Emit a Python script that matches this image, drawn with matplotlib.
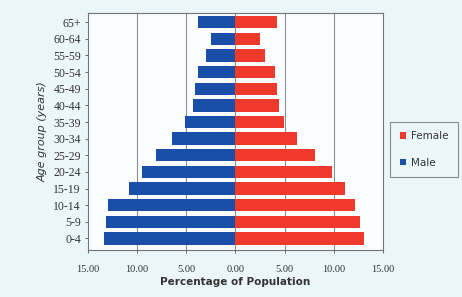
import matplotlib
matplotlib.use("Agg")
import matplotlib.pyplot as plt
import numpy as np

age_groups = ["0-4", "5-9", "10-14", "15-19", "20-24", "25-29", "30-34",
              "35-39", "40-44", "45-49", "50-54", "55-59", "60-64", "65+"]
male = [13.4, 13.1, 12.9, 10.85, 9.5, 8.1, 6.4, 5.1, 4.3, 4.15, 3.75, 2.95, 2.45, 3.75]
female = [13.1, 12.7, 12.2, 11.1, 9.85, 8.1, 6.3, 4.9, 4.4, 4.2, 4.0, 3.0, 2.5, 4.2]
xticks = [-15, -10, -5, 0, 5, 10, 15]

bg = "#ebf6fb"
fig = plt.figure(figsize=(4.62, 2.97), dpi=100, facecolor=bg)
ax = fig.add_axes([0.190, 0.158, 0.639, 0.798])
ax.set_facecolor("#fbfdfe")

y = np.arange(len(age_groups))
ax.barh(y, [-m for m in male], height=0.74, color="#1a4fa8", label="Male", zorder=2)
ax.barh(y, female, height=0.74, color="#ef3a2b", label="Female", zorder=2)

for gx in [-10, -5, 0, 5, 10]:
    ax.axvline(gx, color="#8a8f94", lw=0.8, zorder=1)

ax.set_xlim(-15, 15)
ax.set_ylim(-0.7, 13.55)
ax.set_xticks(xticks)
ax.set_xticklabels([f"{abs(v):.2f}" for v in xticks], fontfamily="Liberation Serif", fontsize=7.5)
ax.set_yticks(y)
ax.set_yticklabels(age_groups, fontfamily="Liberation Serif", fontsize=8.5)
ax.tick_params(axis="both", length=2, width=0.6, colors="#555555", labelcolor="#333333", pad=3)
ax.tick_params(axis="x", pad=9)
for s in ax.spines.values():
    s.set_color("#6d7378")
    s.set_linewidth(0.8)

ax.set_xlabel("Percentage of Population", fontsize=7.5, fontweight="bold", color="#333333", labelpad=2)
ax.set_ylabel("Age group (years)", fontsize=8, fontstyle="italic", color="#333333", labelpad=4)

handles, labels = ax.get_legend_handles_labels()
leg = fig.legend(handles[::-1], labels[::-1], loc="center", bbox_to_anchor=(0.918, 0.497),
                 fontsize=7.5, frameon=True, fancybox=False, handlelength=0.6, handleheight=0.6,
                 handletextpad=0.5, borderpad=0.9, labelspacing=1.6, edgecolor="#6d7378")
leg.get_frame().set_linewidth(0.8)
leg.get_frame().set_facecolor(bg)
for t in leg.get_texts():
    t.set_color("#333333")

fig.savefig("out.png", dpi=100, facecolor=bg)
